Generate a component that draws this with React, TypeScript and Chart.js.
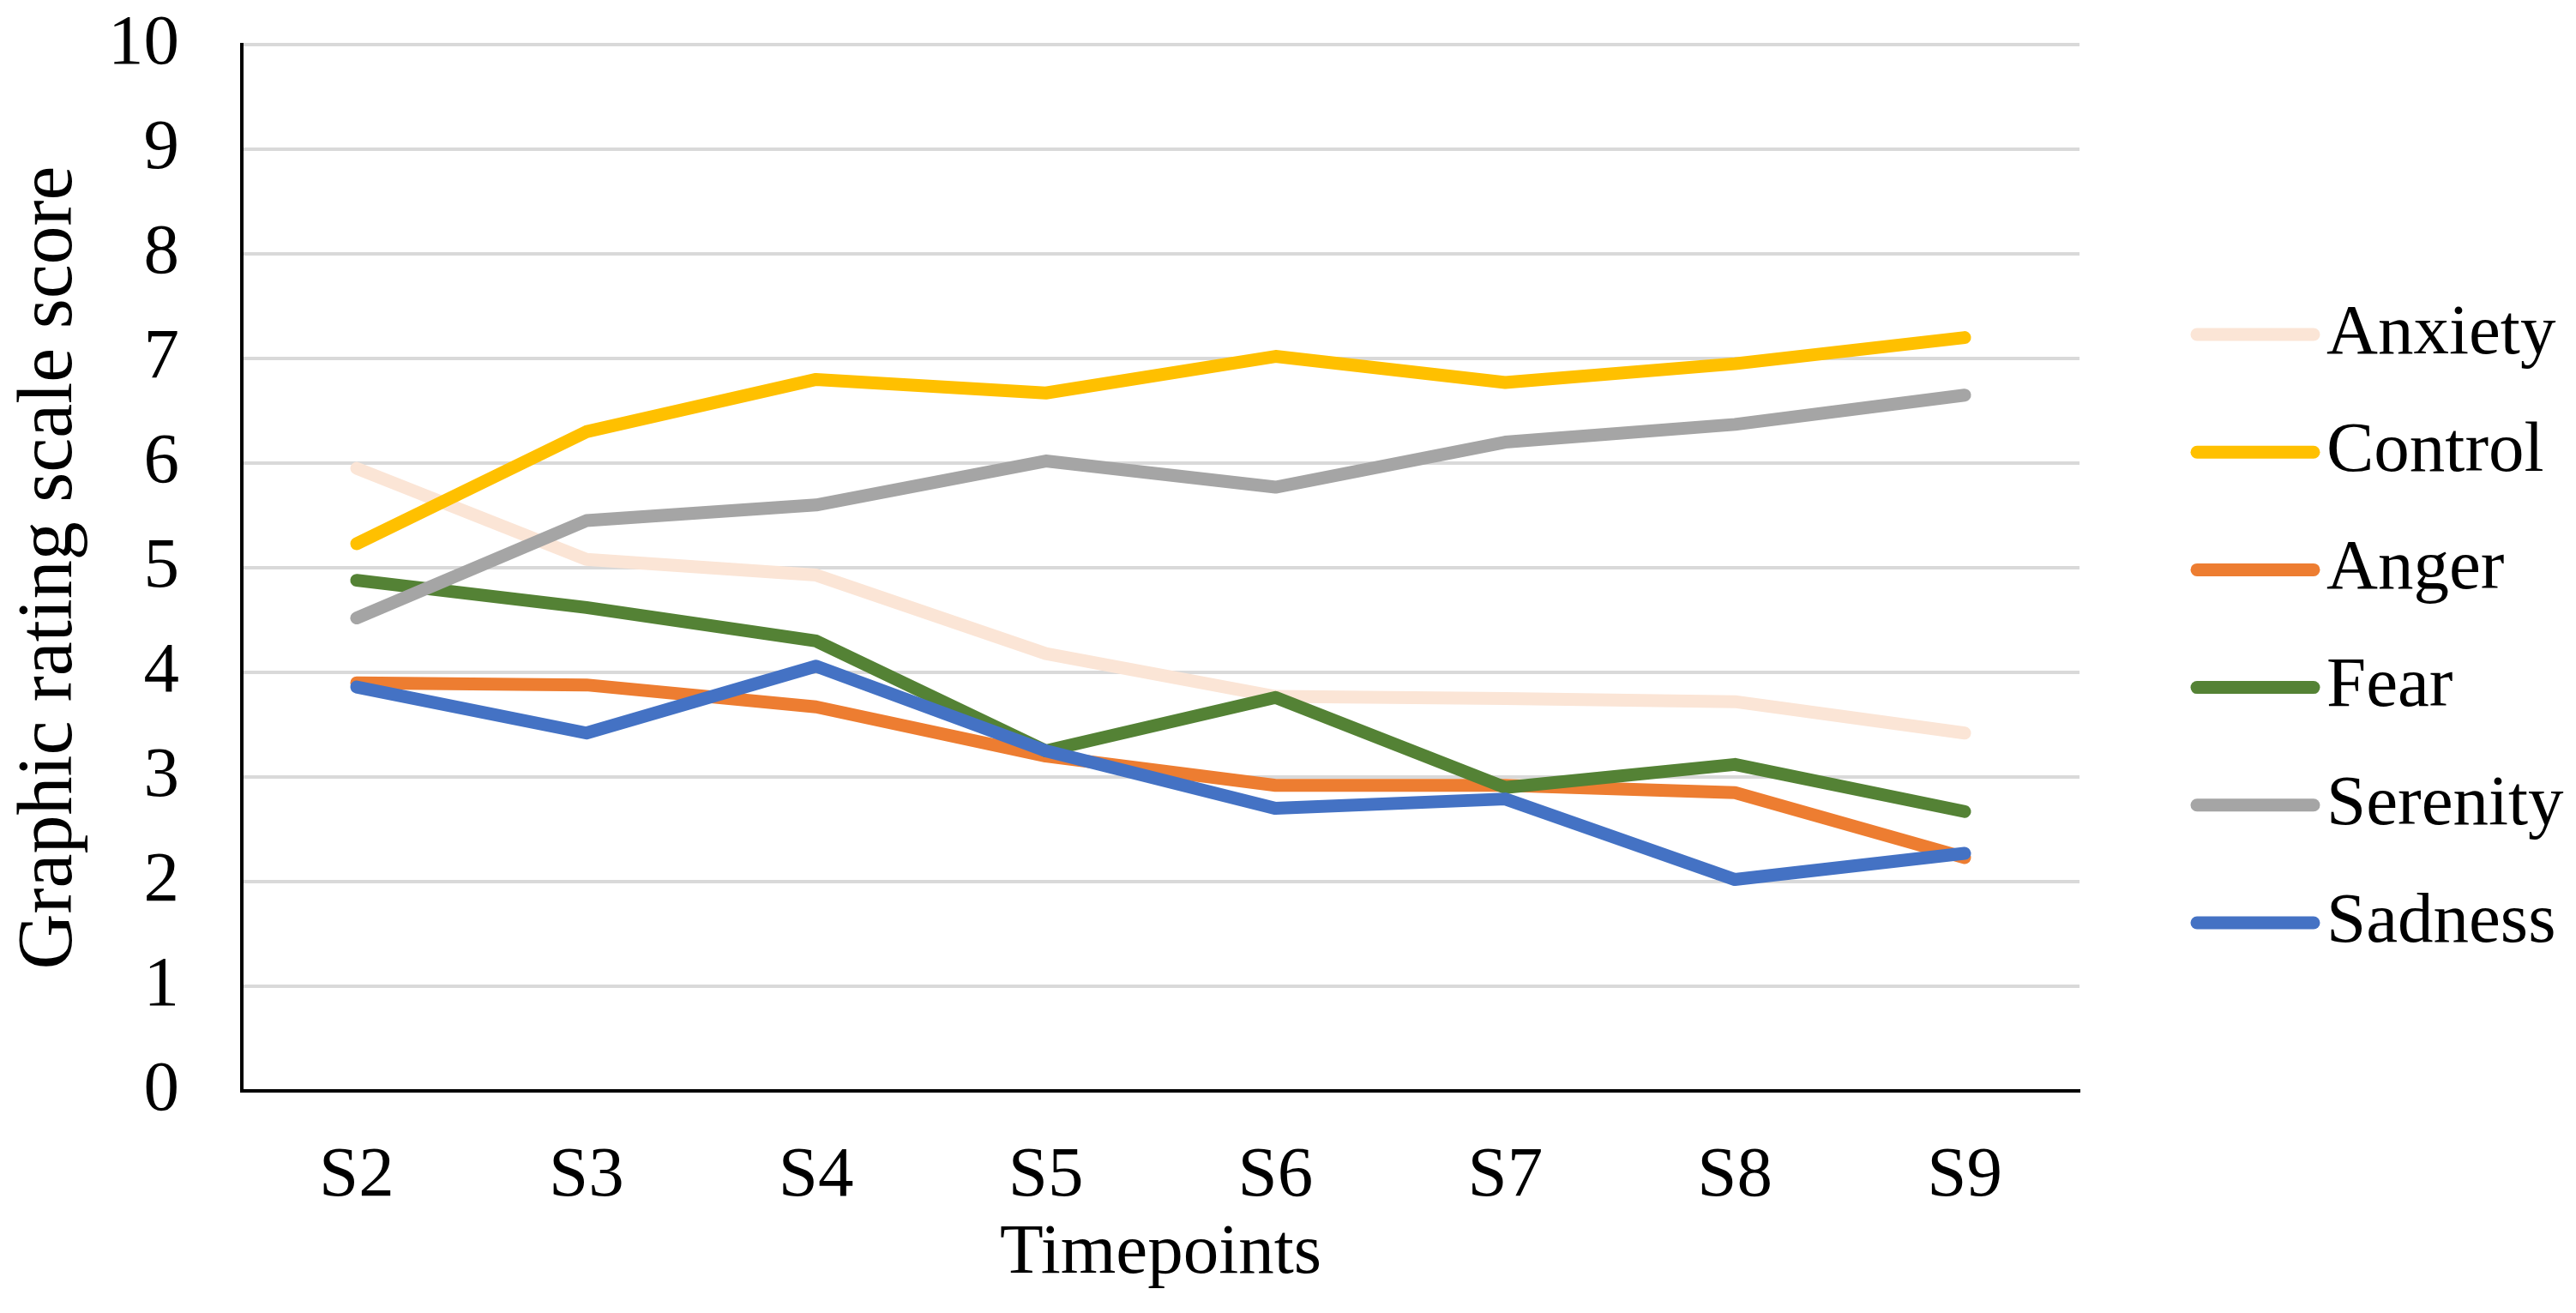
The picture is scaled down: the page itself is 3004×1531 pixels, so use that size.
import React, { useEffect, useRef } from "react";
import { Chart, registerables } from "chart.js";

Chart.register(...registerables);

const categories = ["S2", "S3", "S4", "S5", "S6", "S7", "S8", "S9"];
const anxiety = [5.95, 5.08, 4.93, 4.18, 3.77, 3.75, 3.72, 3.42];
const control = [5.23, 6.3, 6.8, 6.67, 7.02, 6.77, 6.95, 7.2];
const anger = [3.9, 3.88, 3.67, 3.2, 2.92, 2.92, 2.85, 2.23];
const fear = [4.88, 4.62, 4.3, 3.25, 3.76, 2.9, 3.12, 2.67];
const serenity = [4.52, 5.45, 5.6, 6.02, 5.77, 6.2, 6.37, 6.65];
const sadness = [3.86, 3.42, 4.06, 3.25, 2.7, 2.79, 2.02, 2.27];

const seriesNames = ["Anxiety", "Control", "Anger", "Fear", "Serenity", "Sadness"];
const seriesValues = [anxiety, control, anger, fear, serenity, sadness];
const seriesColors = ["#FBE5D6", "#FFC000", "#ED7D31", "#548235", "#A5A5A5", "#4472C4"];

const xTitle = "Timepoints";
const yTitle = "Graphic rating scale score";
const yMin = 0;
const yMax = 10;
const yStep = 1;

const FONT = '"Liberation Serif", "Times New Roman", serif';

const sideLegend = {
  id: "sideLegend",
  afterDraw(chart: any) {
    const ctx = chart.ctx;
    const area = chart.chartArea;
    const x0 = area.right + 137;
    const x1 = area.right + 273;
    const tx = area.right + 288;
    const y0 = 390;
    const step = 137.2;
    chart.data.datasets.forEach((ds: any, i: number) => {
      const y = y0 + i * step;
      ctx.save();
      ctx.strokeStyle = ds.borderColor;
      ctx.lineWidth = 15;
      ctx.lineCap = "round";
      ctx.beginPath();
      ctx.moveTo(x0, y);
      ctx.lineTo(x1, y);
      ctx.stroke();
      ctx.fillStyle = "#000";
      ctx.font = `83px ${FONT}`;
      ctx.textAlign = "left";
      ctx.textBaseline = "middle";
      ctx.fillText(ds.label, tx, y);
      ctx.restore();
    });
  },
};

export default function App() {
  const canvasRef = useRef<HTMLCanvasElement | null>(null);

  useEffect(() => {
    if (!canvasRef.current) return;
    const chart = new Chart(canvasRef.current, {
      type: "line",
      data: {
        labels: categories,
        datasets: seriesNames.map((name, i) => ({
          label: name,
          data: seriesValues[i],
          borderColor: seriesColors[i],
          backgroundColor: seriesColors[i],
          order: seriesNames.length - i,
        })),
      },
      options: {
        animation: false,
        responsive: true,
        maintainAspectRatio: false,
        devicePixelRatio: 1,
        layout: { padding: { top: 52, right: 579, bottom: 0, left: 0 } },
        plugins: {
          legend: { display: false },
          tooltip: { enabled: false },
        },
        elements: {
          point: { radius: 0, hoverRadius: 0 },
          line: {
            tension: 0,
            borderWidth: 15,
            borderCapStyle: "round",
            borderJoinStyle: "round",
            fill: false,
          },
        },
        scales: {
          x: {
            type: "category",
            offset: true,
            grid: { display: false, drawTicks: false },
            border: { display: true, color: "#000", width: 4 },
            ticks: {
              padding: 50,
              color: "#000",
              font: { family: FONT, size: 83 },
              maxRotation: 0,
            },
            title: {
              display: true,
              text: xTitle,
              color: "#000",
              font: { family: FONT, size: 83 },
              padding: { top: 0, bottom: 19 },
            },
            afterFit: (s: any) => {
              s.height = 259;
              s.paddingLeft = 0;
              s.paddingRight = 0;
            },
          },
          y: {
            min: yMin,
            max: yMax,
            ticks: {
              stepSize: yStep,
              padding: 73,
              color: "#000",
              font: { family: FONT, size: 83 },
            },
            grid: {
              color: (c: any) => (c.tick && c.tick.value === 0 ? "rgba(0,0,0,0)" : "#D9D9D9"),
              lineWidth: 4,
              drawTicks: false,
            },
            border: { display: true, color: "#000", width: 4 },
            title: {
              display: true,
              text: yTitle,
              color: "#000",
              font: { family: FONT, size: 90 },
              padding: { top: 5, bottom: 0 },
            },
            afterFit: (s: any) => {
              s.width = 282;
              s.paddingTop = 0;
              s.paddingBottom = 0;
            },
          },
        },
      },
      plugins: [sideLegend],
    } as any);
    return () => chart.destroy();
  }, []);

  return (
    <div
      style={{
        position: "absolute",
        left: 0,
        top: 0,
        width: 3004,
        height: 1531,
        background: "#fff",
      }}
    >
      <canvas ref={canvasRef} />
    </div>
  );
}
